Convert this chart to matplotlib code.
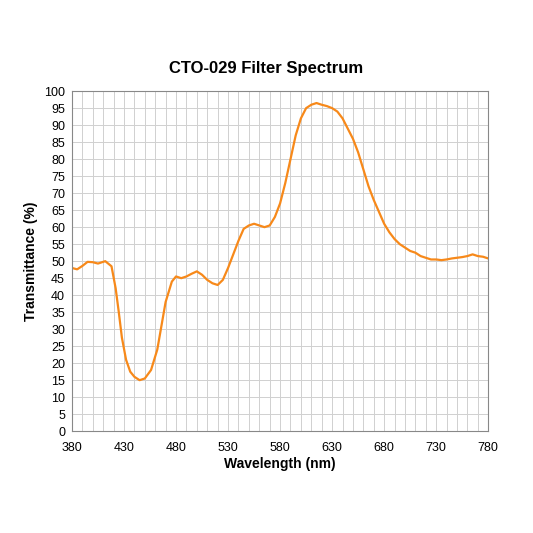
import matplotlib
matplotlib.use("Agg")
import matplotlib.pyplot as plt
import numpy as np

plt.rcParams['font.family'] = ['Liberation Sans', 'DejaVu Sans']

wavelength = [380, 385, 390, 395, 400, 405, 412, 418, 422, 425, 428, 432, 436, 440, 445, 450, 456,
              462, 466, 470, 476, 480, 485, 490, 495, 500, 505, 510, 515, 520, 525, 530, 535,
              540, 545, 550, 555, 560, 565, 570, 575, 580, 585, 590, 595, 600, 605, 610, 615,
              620, 625, 630, 635, 640, 645, 650, 655, 660, 665, 670, 675, 680, 685, 690, 695,
              700, 705, 710, 715, 720, 725, 730, 735, 740, 745, 750, 755, 760, 765, 770, 775, 780]
transmittance = [48, 47.6, 48.6, 49.8, 49.7, 49.3, 50, 48.5, 42, 35, 27.5, 21, 17.5, 16, 15, 15.5, 18,
                 24, 31, 38, 44, 45.5, 45, 45.5, 46.3, 47, 46, 44.5, 43.5, 43, 44.5, 48, 52,
                 56, 59.5, 60.5, 61, 60.5, 60, 60.5, 63, 67, 73, 80, 87, 92, 95, 96, 96.5,
                 96, 95.6, 95, 94, 92, 89, 86, 82, 77, 72, 68, 64.5, 61, 58.5, 56.5, 55,
                 54, 53, 52.5, 51.5, 51, 50.5, 50.5, 50.3, 50.5, 50.8, 51, 51.2, 51.5, 52, 51.5, 51.3, 50.8]

fig = plt.figure(figsize=(5.33, 5.33), dpi=100)
ax = fig.add_axes([0.135, 0.191, 0.781, 0.638])
ax.plot(wavelength, transmittance, color="#F7891A", lw=1.6)

ax.set_xlim(380, 780)
ax.set_ylim(0, 100)
ax.set_xticks(np.arange(380, 781, 50))
ax.set_xticks(np.arange(380, 781, 10), minor=True)
ax.set_yticks(np.arange(0, 101, 5))
ax.grid(True, which="both", color="#d0d0d0", lw=0.7)
ax.tick_params(which="both", length=0, labelsize=9)
ax.tick_params(axis="x", pad=8)
ax.tick_params(axis="y", pad=5)
for s in ax.spines.values():
    s.set_color("#888888")
    s.set_linewidth(0.8)

ax.set_xlabel("Wavelength (nm)", fontsize=10, fontweight="bold", labelpad=2)
ax.set_ylabel("Transmittance (%)", fontsize=10, fontweight="bold")
fig.text(0.5, 0.872, "CTO-029 Filter Spectrum", ha="center", va="center",
         fontsize=12, fontweight="bold")

fig.savefig("out.png", dpi=100)
